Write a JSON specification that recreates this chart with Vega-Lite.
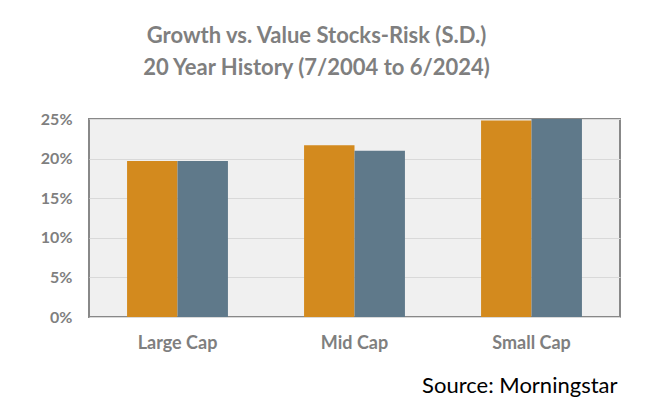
{
  "$schema": "https://vega.github.io/schema/vega-lite/v6.json",
  "width": 531,
  "height": 198,
  "autosize": {"type": "none"},
  "padding": {"left": 89, "top": 119, "right": 28, "bottom": 99},
  "background": "white",
  "title": {
    "text": ["Growth vs. Value Stocks-Risk (S.D.)", "20 Year History (7/2004 to 6/2024)"],
    "font": "Lato",
    "fontSize": 22,
    "fontWeight": "bold",
    "color": "#7f7f7f",
    "lineHeight": 32,
    "anchor": "middle",
    "dx": -38,
    "offset": 31
  },
  "data": {
    "values": [
      {"cap": "Large Cap", "style": "Growth", "sd": 0.197},
      {"cap": "Large Cap", "style": "Value", "sd": 0.197},
      {"cap": "Mid Cap", "style": "Growth", "sd": 0.217},
      {"cap": "Mid Cap", "style": "Value", "sd": 0.210},
      {"cap": "Small Cap", "style": "Growth", "sd": 0.248},
      {"cap": "Small Cap", "style": "Value", "sd": 0.250}
    ]
  },
  "mark": {"type": "bar"},
  "encoding": {
    "x": {
      "field": "cap",
      "type": "nominal",
      "sort": ["Large Cap", "Mid Cap", "Small Cap"],
      "scale": {"paddingInner": 0.43, "paddingOuter": 0.215},
      "axis": {
        "title": "Source: Morningstar",
        "titleFont": "Lato",
        "titleFontSize": 22,
        "titleFontWeight": "normal",
        "titleColor": "#000000",
        "titleAnchor": "end",
        "titleAlign": "right",
        "titleBaseline": "alphabetic",
        "titleX": 528,
        "titleY": 75,
        "labelAngle": 0,
        "labelFont": "Lato",
        "labelFontSize": 18,
        "labelFontWeight": "bold",
        "labelColor": "#7f7f7f",
        "labelPadding": 17,
        "ticks": false,
        "domain": false
      }
    },
    "xOffset": {"field": "style", "type": "nominal", "sort": ["Growth", "Value"], "scale": {"paddingInner": 0, "paddingOuter": 0}},
    "y": {
      "field": "sd",
      "type": "quantitative",
      "scale": {"domain": [0, 0.25], "nice": false},
      "axis": {
        "title": null,
        "format": "%",
        "values": [0, 0.05, 0.1, 0.15, 0.2, 0.25],
        "labelFont": "Lato",
        "labelFontSize": 16,
        "labelFontWeight": "bold",
        "labelColor": "#7f7f7f",
        "labelPadding": 17,
        "ticks": false,
        "domain": false,
        "gridColor": "#d9d9d9",
        "gridWidth": 1
      }
    },
    "color": {
      "field": "style",
      "type": "nominal",
      "scale": {"domain": ["Growth", "Value"], "range": ["#D38A1E", "#5F798A"]},
      "legend": null
    }
  },
  "config": {
    "view": {"fill": "#f0f0f0", "stroke": "#888888", "strokeWidth": 2}
  }
}
